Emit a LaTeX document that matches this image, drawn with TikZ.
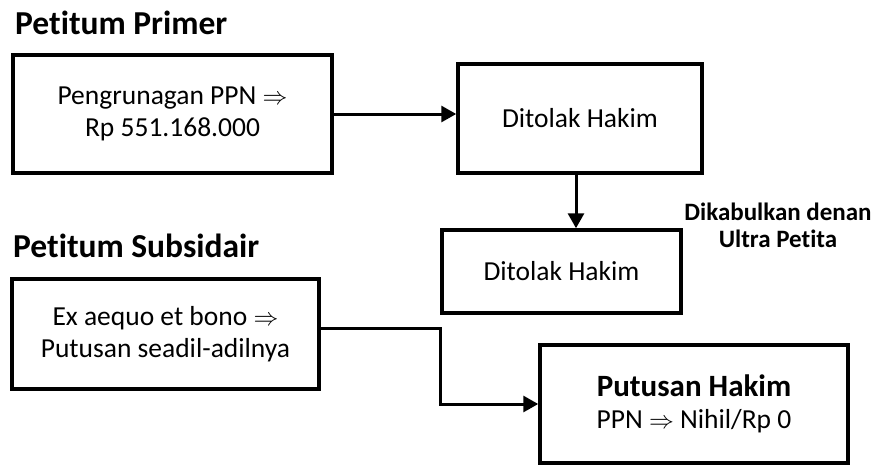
\documentclass[tikz,border=0pt]{standalone}
\usepackage{fontspec}
\setmainfont{Carlito}[Ligatures=NoCommon]
\usetikzlibrary{arrows.meta}

\begin{document}
\begin{tikzpicture}[
    x=1pt, y=-1pt,
    font=\fontsize{27.5}{32}\selectfont,
    >={Triangle[length=15pt,width=16pt]},
    box/.style={draw, line width=3.5pt, align=center, inner sep=0pt},
    ttl/.style={anchor=base west, inner sep=0pt,
                font=\fontsize{33.5}{40}\selectfont\bfseries},
    lab/.style={align=center, inner sep=0pt,
                font=\fontsize{25}{27}\selectfont\bfseries},
    flow/.style={->, line width=3pt},
  ]
  \useasboundingbox (0,0) rectangle (874,464);

  %% ---- headings -----------------------------------------------------
  \node[ttl] (tprim) at (15,34)  {Petitum Primer};
  \node[ttl] (tsub)  at (13,257) {Petitum Subsidair};

  %% ---- petitum primer ------------------------------------------------
  \node[box, minimum width=319pt, minimum height=118pt] (pri) at (172.5,114)
  {Pengrunagan PPN $\Rightarrow$\\Rp 551.168.000};
  \node[box, minimum width=244pt, minimum height=109pt] (tolak1) at (580,118.5)
  {Ditolak Hakim};
  \node[box, minimum width=239pt, minimum height=83pt] (tolak2) at (561.5,271.5)
  {Ditolak Hakim};

  \draw[flow] (pri.east) -- (pri.east -| tolak1.west);
  \draw[flow] ([xshift=-4pt]tolak1.south) -- ([xshift=-4pt]tolak1.south |- tolak2.north);

  \node[lab] (ultra) at (778,225) {Dikabulkan denan\\Ultra Petita};

  %% ---- petitum subsidair ---------------------------------------------
  \node[box, minimum width=307pt, minimum height=110pt] (sub) at (165.5,334)
  {Ex aequo et bono $\Rightarrow$\\Putusan seadil-adilnya};
  \node[box, minimum width=308pt, minimum height=118pt] (putus) at (694,404)
  {{\bfseries\fontsize{31}{30}\selectfont Putusan Hakim}\\PPN $\Rightarrow$ Nihil/Rp 0};

  \draw[flow] ([yshift=6pt]sub.east) -- ++(120,0) |- (putus.west);

\end{tikzpicture}
\end{document}
